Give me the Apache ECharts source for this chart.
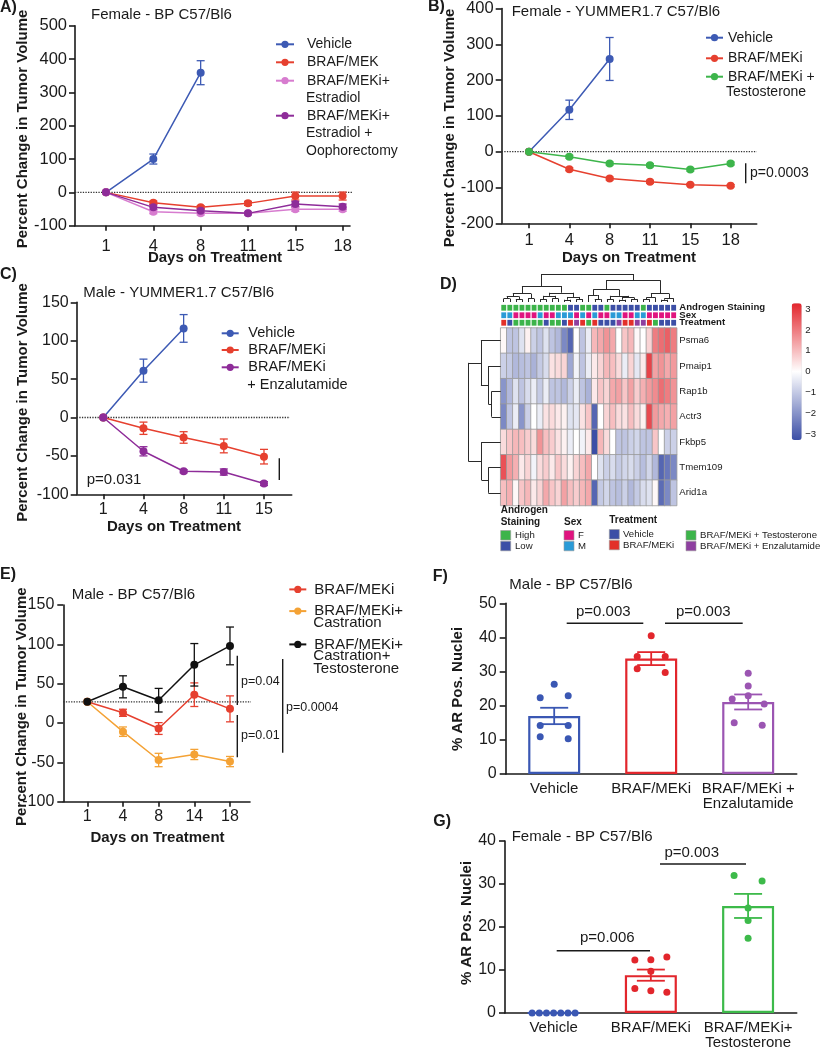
<!DOCTYPE html>
<html><head><meta charset="utf-8"><title>Figure</title>
<script src="https://cdn.jsdelivr.net/npm/echarts@6.0.0/dist/echarts.min.js"></script>
<style>
html,body{margin:0;padding:0;background:#fff;}
#wrap{position:relative;width:821px;height:1050px;overflow:hidden;background:#fff}
.c{position:absolute;left:0;top:0;width:821px;height:1050px}
</style></head>
<body><div id="wrap">
<div id="cA" class="c"></div><div id="cB" class="c"></div><div id="cC" class="c"></div>
<div id="cD" class="c"></div><div id="cE" class="c"></div><div id="cF" class="c"></div><div id="cG" class="c"></div>
</div>
<script>
/* ================= DATA ================= */
/* Panel A - Female BP C57/Bl6 */
const A_days = ['1', '4', '8', '11', '15', '18'];
const A_vehicle = [0, 100, 359];
const A_vehicleSem = [0, 15, 36];
const A_brafMek = [0, -31, -45, -33, -11, -11];
const A_brafMekSem = [0, 5, 5, 6, 12, 12];
const A_estradiol = [0, -58, -63, -63, -51, -51];
const A_estradiolSem = [0, 6, 5, 4, 6, 6];
const A_oophor = [0, -45, -55, -63, -35, -43];
const A_oophorSem = [0, 7, 6, 4, 8, 8];

/* Panel B - Female YUMMER1.7 C57/Bl6 */
const B_days = ['1', '4', '8', '11', '15', '18'];
const B_vehicle = [0, 117, 259];
const B_vehicleSem = [0, 27, 60];
const B_brafMek = [0, -49, -75, -84, -92, -95];
const B_brafMekSem = [0, 4, 4, 4, 3, 3];
const B_testo = [0, -14, -33, -38, -50, -33];
const B_testoSem = [0, 4, 4, 4, 4, 4];

/* Panel C - Male YUMMER1.7 C57/Bl6 */
const C_days = ['1', '4', '8', '11', '15'];
const C_vehicle = [0, 61, 116];
const C_vehicleSem = [0, 15, 18];
const C_brafMek = [0, -14, -26, -37, -51];
const C_brafMekSem = [0, 8, 7.5, 9, 9.5];
const C_enza = [0, -44, -70, -71, -86];
const C_enzaSem = [0, 6, 2, 4, 2.5];

/* Panel E - Male BP C57/Bl6 */
const E_days = ['1', '4', '8', '14', '18'];
const E_baseline = 27;
const E_brafMek = [27, 13, -7, 36, 18];
const E_brafMekSem = [0, 4.5, 7.5, 15, 16.5];
const E_castration = [27, -11, -47, -40, -49];
const E_castrationSem = [0, 6, 8.5, 6.5, 6.5];
const E_castTesto = [27, 46, 29, 74, 98];
const E_castTestoSem = [0, 14, 15, 27, 24];

/* Panel F - Male BP C57/Bl6, % AR positive nuclei */
const F_groups = ['Vehicle', 'BRAF/MEKi', 'BRAF/MEKi +\nEnzalutamide'];
const F_means = [17, 33.8, 21.1];
const F_sems = [2.4, 1.9, 2.2];
const F_vehiclePts = [22.3, 22.9, 26.3, 14.2, 14.2, 10.9, 10.3];
const F_brafPts = [40.5, 34.4, 34.4, 30.8, 29.7];
const F_enzaPts = [29.5, 25.8, 22, 22.9, 20.5, 15, 14.3];

/* Panel G - Female BP C57/Bl6, % AR positive nuclei */
const G_groups = ['Vehicle', 'BRAF/MEKi', 'BRAF/MEKi+\nTestosterone'];
const G_means = [0, 8.8, 24.9];
const G_sems = [0, 1.3, 2.8];
const G_vehiclePts = [0, 0, 0, 0, 0, 0, 0];
const G_brafPts = [12.3, 12.4, 13, 9.7, 5.7, 5.2, 4.8];
const G_testoPts = [32, 30.7, 24.4, 21.5, 17.4];

/* Panel D - heatmap (29 samples x 7 genes) */
const D_genes = ['Psma6', 'Pmaip1', 'Rap1b', 'Actr3', 'Fkbp5', 'Tmem109', 'Arid1a'];
const D_psma6 = [0.1, -1, -1, -0.5, 0.2, -0.8, -1, -0.5, -1, -1.2, -2, -2.6, 0, -1, -0.3, 1, 1.2, 1.5, 1.2, 0, 0.8, 1, 0.1, 0, 0.6, 1.8, 2, 2.2, 1.8];
const D_pmaip1 = [-0.8, -0.9, -1.2, -1.1, -1, -1.3, -0.9, -0.6, 0.4, 0.5, 0.6, -1.5, -0.2, -1, -0.3, 0.3, 0.6, 1, 0.9, 0.5, -0.3, 0.6, -0.4, 0.3, 2.6, 1.3, 1.5, 1.2, 1.4];
const D_rap1b = [-1.8, -1.2, -0.5, -1, -0.6, -0.3, -0.9, -0.3, -1, -1, -1.2, -0.8, -0.3, -1, -1.3, 0.3, 0.8, 0.6, 1.2, 1.3, 0.8, 1.3, 0.7, 1.1, 1.4, 1.6, 2, 1.8, 1.5];
const D_actr3 = [-2, -1, -0.3, -1.8, -0.8, 0, -0.3, 0.4, 0.5, 0.3, 0.2, -0.5, -0.4, 0.4, 0.8, -2.6, 0, 0.6, 0.9, 0.5, 0.4, 0.9, 0.5, 0.2, 2.5, 1.4, 1.2, 1.1, 1.3];
const D_fkbp5 = [0.5, 0.8, 1, 0.9, 0.7, 0.5, 1.5, 0.9, 0.7, 0.4, 0.2, -0.3, 0, -0.2, 0.3, -3, 1, 0.5, 0, -1, -1, -0.8, -0.7, -1, -1, 0.8, 0, -0.8, -0.8];
const D_tmem109 = [2.4, 1.4, 1.1, 0.3, 0.6, -0.2, 0.5, 0.7, 0.3, 0.8, 0.5, 0.2, 0.6, 0.9, 1.2, 0, -0.5, -0.8, -0.6, -0.9, -0.7, -0.6, -0.8, -1.1, -0.7, -1.2, -2.6, -2.3, -2];
const D_arid1a = [0.9, 1.1, 0.1, 0.8, 1, 0.3, 0.6, 1.2, 0.8, 0.6, 1.3, 0.9, 0.7, 1, 1.2, -2.6, -0.9, -0.7, -1, -1.1, -0.8, -1.2, -0.9, -0.6, -0.5, 0.1, -2.5, -2, -1];
const D_androgen = ['H','H','H','H','H','H','H','H','H','H','H','L','L','H','H','L','L','H','L','L','L','L','L','H','L','L','L','L','L'];
const D_sex = ['M','M','F','F','F','F','M','F','F','M','M','M','F','M','F','M','F','F','M','M','F','F','M','M','F','F','F','F','F'];
const D_treatment = ['B','V','T','T','T','T','T','V','T','T','V','B','E','B','T','B','V','V','V','E','B','B','E','E','B','T','V','V','V'];
const D_annotRows = ['Androgen Staining', 'Sex', 'Treatment'];
const D_colorTicks = [-3, -2, -1, 0, 1, 2, 3];
/* dendrograms: [left, right, mergeHeight], leaves are column/row indices */
const D_colTree = [
  [[[[0, 1, 0.12], [2, 3, 0.1], 0.2], [4, 5, 0.12], 0.3],
   [[[6, 7, 0.1], [8, 9, 0.12], 0.22], [[10, 11, 0.08], [12, 13, 0.1], 0.18], 0.33], 0.57],
  [[[14, [15, 16, 0.1], 0.25], [[17, 18, 0.1], [[19, 20, 0.08], [21, 22, 0.1], 0.16], 0.22], 0.45],
   [[[23, 24, 0.1], 25, 0.16], [[26, 27, 0.08], 28, 0.13], 0.3], 0.78], 1.0];
const D_rowTree = [[0, [1, [2, 3, 0.28], 0.38], 0.61], [4, [5, 6, 0.38], 0.59], 1.0];

/* ================= STYLE HELPERS ================= */
const FONT = '"Liberation Sans", Arial, Helvetica, sans-serif';
const INK = '#1a1a1a';
const BLUE = '#3d5ab4', RED = '#e6402f', PINK = '#d77ccf', PURPLE = '#8e2c99',
      GREEN = '#3db54b', ORANGE = '#f4a235', BLACK = '#111111';

function gText(text, x, y, o) {
  o = o || {};
  const al = o.align || 'left', va = o.va || 'middle';
  return { type: 'text', x: x, y: y, rotation: o.rot || 0, silent: true, z: 50,
    style: { text: text, x: 0, y: 0, fill: o.color || INK, fontSize: o.size || 15,
      fontWeight: o.bold ? 'bold' : 'normal', fontFamily: FONT,
      align: al, verticalAlign: va, textAlign: al, textVerticalAlign: va } };
}
function gLine(x1, y1, x2, y2, o) {
  o = o || {};
  return { type: 'line', silent: true, z: 50, shape: { x1: x1, y1: y1, x2: x2, y2: y2 },
    style: { stroke: o.color || INK, lineWidth: o.w || 1.4 } };
}
function gRect(x, y, w, h, fill) {
  return { type: 'rect', silent: true, z: 50, shape: { x: x, y: y, width: w, height: h },
    style: { fill: fill, stroke: '#9a9a9a', lineWidth: 0.6 } };
}
const letter = (t, x, y) => gText(t, x, y, { bold: true, size: 16 });
const title = (t, x, y) => gText(t, x, y, { size: 15 });
const yName = (t, x, y) => gText(t, x, y, { bold: true, size: 15, rot: Math.PI / 2, align: 'center' });
const xName = (t, x, y) => gText(t, x, y, { bold: true, size: 15, align: 'center' });

function errRenderer(colorFor, capW, lw) {
  return function (params, api) {
    const x = api.value(0), lo = api.value(1), hi = api.value(2);
    if (!(hi > lo)) return null;
    const a = api.coord([x, hi]), b = api.coord([x, lo]);
    const h = capW / 2;
    const st = { stroke: colorFor(params.dataIndex), lineWidth: lw };
    return { type: 'group', children: [
      { type: 'line', shape: { x1: a[0], y1: a[1], x2: b[0], y2: b[1] }, style: st },
      { type: 'line', shape: { x1: a[0] - h, y1: a[1], x2: a[0] + h, y2: a[1] }, style: st },
      { type: 'line', shape: { x1: b[0] - h, y1: b[1], x2: b[0] + h, y2: b[1] }, style: st }
    ] };
  };
}

/* one legend component per entry (first line next to the icon), continuation lines as text */
function legendParts(cfg) {
  const legends = [], extra = [];
  const padLeft = Math.max(0, cfg.textLeft - cfg.iconLeft - cfg.iconW - 5);
  cfg.items.forEach(it => {
    const lines = it.text.split('\n'), L = cfg.lineHeight;
    legends.push({ show: true, orient: 'vertical', left: cfg.iconLeft, top: it.y - L / 2,
      padding: 0, itemWidth: cfg.iconW, itemHeight: 9, selectedMode: false,
      data: [{ name: it.name }], formatter: () => lines[0],
      textStyle: { fontSize: cfg.fontSize, lineHeight: L, height: L, color: INK, fontFamily: FONT,
        padding: [0, 0, 0, padLeft] } });
    lines.slice(1).forEach((ln, j) => extra.push(gText(ln, cfg.textLeft, it.y + (j + 1) * L, { size: cfg.fontSize })));
  });
  return { legends: legends, extra: extra };
}

function axisStyle() { return { color: INK, width: 1.6 }; }

/* ================= LINE PANELS ================= */
function makeLinePanel(cfg) {
  const chart = echarts.init(document.getElementById(cfg.id), null, { width: 821, height: 1050 });
  const g = cfg.grid;
  const xMin = (g.left - cfg.x0) / cfg.step;
  const xMax = (g.left + g.width - cfg.x0) / cfg.step;
  const idx = cfg.days.map((d, i) => i);
  const refEnd = (cfg.refEndPx - cfg.x0) / cfg.step;
  const series = [{
    type: 'line', name: '__ref', data: [[xMin, cfg.refY], [refEnd, cfg.refY]], symbol: 'none',
    silent: true, clip: false, z: 1, lineStyle: { color: '#333', width: 1.3, type: 'dotted' }
  }];
  cfg.series.forEach(s => {
    series.push({ type: 'custom', name: s.name + ' SEM', silent: true, clip: false, z: 2,
      renderItem: errRenderer(() => s.color, 8, 1.3),
      encode: { x: 0, y: [1, 2] },
      data: s.values.map((v, i) => [i, v - s.errs[i], v + s.errs[i]]) });
    series.push({ type: 'line', name: s.name, data: s.values.map((v, i) => [i, v]),
      symbol: 'circle', symbolSize: 8, z: 3, clip: false,
      itemStyle: { color: s.color }, lineStyle: { color: s.color, width: 1.5 } });
  });
  const lp = legendParts(cfg.legend);
  chart.setOption({
    animation: false,
    textStyle: { fontFamily: FONT },
    grid: { left: g.left, top: g.top, width: g.width, height: g.height },
    xAxis: { type: 'value', min: xMin, max: xMax,
      axisLine: { show: true, onZero: false, lineStyle: axisStyle() },
      axisTick: { show: true, customValues: idx, length: 5, lineStyle: axisStyle() },
      axisLabel: { customValues: idx, formatter: v => cfg.days[Math.round(v)], fontSize: cfg.tickFont,
        color: INK, margin: cfg.xLabelMargin, fontFamily: FONT },
      splitLine: { show: false } },
    yAxis: { type: 'value', min: cfg.yMin, max: cfg.yMax, interval: cfg.yInterval,
      axisLine: { show: true, onZero: false, lineStyle: axisStyle() },
      axisTick: { show: true, length: 6, lineStyle: axisStyle() },
      axisLabel: { fontSize: cfg.tickFont, color: INK, margin: cfg.yLabelMargin, fontFamily: FONT },
      splitLine: { show: false } },
    legend: lp.legends,
    graphic: cfg.graphics.concat(lp.extra),
    series: series
  });
}

makeLinePanel({
  id: 'cA', grid: { left: 75, top: 25.7, width: 275, height: 200 }, x0: 106, step: 47.33, refEndPx: 372, refY: 0,
  days: A_days, yMin: -100, yMax: 500, yInterval: 100, tickFont: 16.5, xLabelMargin: 12.5, yLabelMargin: 8,
  series: [
    { name: 'Vehicle', color: BLUE, values: A_vehicle, errs: A_vehicleSem },
    { name: 'BRAF/MEK', color: RED, values: A_brafMek, errs: A_brafMekSem },
    { name: 'BRAF/MEKi+ Estradiol', color: PINK, values: A_estradiol, errs: A_estradiolSem },
    { name: 'BRAF/MEKi+ Estradiol + Oophorectomy', color: PURPLE, values: A_oophor, errs: A_oophorSem }],
  legend: { iconLeft: 275, iconW: 18, textLeft: 306, fontSize: 14, lineHeight: 17.5, items: [
    { name: 'Vehicle', text: 'Vehicle', y: 44.3 },
    { name: 'BRAF/MEK', text: 'BRAF/MEK', y: 62.3 },
    { name: 'BRAF/MEKi+ Estradiol', text: 'BRAF/MEKi+\nEstradiol', y: 80.7 },
    { name: 'BRAF/MEKi+ Estradiol + Oophorectomy', text: 'BRAF/MEKi+\nEstradiol +\nOophorectomy', y: 115.7 }] },
  graphics: [letter('A)', 0, 8), title('Female - BP C57/Bl6', 91, 15),
    yName('Percent Change in Tumor Volume', 22.5, 129), xName('Days on Treatment', 215, 258)]
});

makeLinePanel({
  id: 'cB', grid: { left: 501.7, top: 5, width: 255, height: 218.3 }, x0: 529, step: 40.33, refEndPx: 756.7, refY: 0,
  days: B_days, yMin: -200, yMax: 400, yInterval: 100, tickFont: 16.5, xLabelMargin: 8.5, yLabelMargin: 8,
  series: [
    { name: 'Vehicle', color: BLUE, values: B_vehicle, errs: B_vehicleSem },
    { name: 'BRAF/MEKi', color: RED, values: B_brafMek, errs: B_brafMekSem },
    { name: 'BRAF/MEKi + Testosterone', color: GREEN, values: B_testo, errs: B_testoSem }],
  legend: { iconLeft: 705, iconW: 17, textLeft: 726, fontSize: 14, lineHeight: 15.5, items: [
    { name: 'Vehicle', text: 'Vehicle', y: 37.7 },
    { name: 'BRAF/MEKi', text: 'BRAF/MEKi', y: 58.3 },
    { name: 'BRAF/MEKi + Testosterone', text: 'BRAF/MEKi +\nTestosterone', y: 76.7 }] },
  graphics: [letter('B)', 428, 7), title('Female - YUMMER1.7 C57/Bl6', 511.7, 12.3),
    yName('Percent Change in Tumor Volume', 450, 128), xName('Days on Treatment', 629, 258),
    gLine(745.7, 163.3, 745.7, 183.3), gText('p=0.0003', 750, 173.3, { size: 14 })]
});

makeLinePanel({
  id: 'cC', grid: { left: 76.7, top: 302.3, width: 215, height: 192 }, x0: 103.3, step: 40.17, refEndPx: 290, refY: 0,
  days: C_days, yMin: -100, yMax: 150, yInterval: 50, tickFont: 16, xLabelMargin: 7, yLabelMargin: 8,
  series: [
    { name: 'Vehicle', color: BLUE, values: C_vehicle, errs: C_vehicleSem },
    { name: 'BRAF/MEKi', color: RED, values: C_brafMek, errs: C_brafMekSem },
    { name: 'BRAF/MEKi + Enzalutamide', color: PURPLE, values: C_enza, errs: C_enzaSem }],
  legend: { iconLeft: 220.7, iconW: 17, textLeft: 247.3, fontSize: 14.5, lineHeight: 17.5, items: [
    { name: 'Vehicle', text: 'Vehicle', y: 333.3 },
    { name: 'BRAF/MEKi', text: 'BRAF/MEKi', y: 350 },
    { name: 'BRAF/MEKi + Enzalutamide', text: 'BRAF/MEKi\n+ Enzalutamide', y: 367.3 }] },
  graphics: [letter('C)', 0, 275), title('Male - YUMMER1.7 C57/Bl6', 83.3, 293.3),
    yName('Percent Change in Tumor Volume', 23, 402.5), xName('Days on Treatment', 174, 526.7),
    gLine(279.3, 458.3, 279.3, 480), gText('p=0.031', 86.7, 480, { size: 15 })]
});

makeLinePanel({
  id: 'cE', grid: { left: 63.3, top: 605, width: 186.7, height: 196.7 }, x0: 87.3, step: 35.67, refEndPx: 253, refY: E_baseline,
  days: E_days, yMin: -100, yMax: 150, yInterval: 50, tickFont: 16, xLabelMargin: 7, yLabelMargin: 9,
  series: [
    { name: 'BRAF/MEKi', color: RED, values: E_brafMek, errs: E_brafMekSem },
    { name: 'BRAF/MEKi+ Castration', color: ORANGE, values: E_castration, errs: E_castrationSem },
    { name: 'BRAF/MEKi+ Castration+ Testosterone', color: BLACK, values: E_castTesto, errs: E_castTestoSem }],
  legend: { iconLeft: 288.3, iconW: 17, textLeft: 313.3, fontSize: 15, lineHeight: 12.8, items: [
    { name: 'BRAF/MEKi', text: 'BRAF/MEKi', y: 588.3 },
    { name: 'BRAF/MEKi+ Castration', text: 'BRAF/MEKi+\nCastration', y: 610 },
    { name: 'BRAF/MEKi+ Castration+ Testosterone', text: 'BRAF/MEKi+\nCastration+\nTestosterone', y: 643.3 }] },
  graphics: [letter('E)', 0, 575), title('Male - BP C57/Bl6', 71.7, 595),
    yName('Percent Change in Tumor Volume', 21.7, 706.7), xName('Days on Treatment', 157.5, 838.3),
    gLine(237.3, 655.7, 237.3, 705), gText('p=0.04', 241, 681.7, { size: 12.5 }),
    gLine(237.3, 715, 237.3, 757.3), gText('p=0.01', 241, 735.7, { size: 12.5 }),
    gLine(282.7, 659, 282.7, 752.7), gText('p=0.0004', 286, 708, { size: 12.5 })]
});

/* ================= BAR PANELS ================= */
function swarmOffsets(pix, thr) {
  const spacingFor = n => n <= 1 ? 0 : n === 2 ? 28 : n === 3 ? 16 : 43 / (n - 1);
  const order = pix.map((_, i) => i).sort((a, b) => pix[a] - pix[b]);
  const rows = []; let cur = [];
  order.forEach((i, j) => {
    if (j > 0 && Math.abs(pix[i] - pix[order[j - 1]]) > thr) { rows.push(cur); cur = []; }
    cur.push(i);
  });
  if (cur.length) rows.push(cur);
  const off = new Array(pix.length).fill(0);
  rows.forEach(r => {
    r.sort((a, b) => a - b);
    const n = r.length, s = spacingFor(n);
    r.forEach((i, j) => { off[i] = (j - (n - 1) / 2) * s; });
  });
  return off;
}

function makeBarPanel(cfg) {
  const chart = echarts.init(document.getElementById(cfg.id), null, { width: 821, height: 1050 });
  const g = cfg.grid;
  const ptsData = [];
  cfg.points.forEach((arr, c) => arr.forEach((v, k) => ptsData.push([c, v, k])));
  chart.setOption({
    animation: false,
    textStyle: { fontFamily: FONT },
    grid: { left: g.left, top: g.top, width: g.width, height: g.height },
    xAxis: { type: 'category', data: cfg.groups, boundaryGap: true,
      axisLine: { show: true, onZero: false, lineStyle: axisStyle() },
      axisTick: { show: false },
      axisLabel: { fontSize: 15, lineHeight: 15, color: INK, margin: 7, interval: 0, fontFamily: FONT } },
    yAxis: { type: 'value', min: 0, max: cfg.yMax, interval: 10,
      axisLine: { show: true, onZero: false, lineStyle: axisStyle() },
      axisTick: { show: true, length: 6, lineStyle: axisStyle() },
      axisLabel: { fontSize: 16, color: INK, margin: 9, fontFamily: FONT },
      splitLine: { show: false } },
    graphic: cfg.graphics,
    series: [
      { type: 'bar', name: 'Mean', barWidth: 52, silent: true, z: 2,
        data: cfg.means.map((m, i) => ({ value: m,
          itemStyle: { color: '#ffffff', borderColor: cfg.colors[i], borderWidth: 2.2 } })) },
      { type: 'custom', name: 'SEM', silent: true, z: 3, clip: false,
        renderItem: errRenderer(i => cfg.colors[i], 28, 1.8), encode: { x: 0, y: [1, 2] },
        data: cfg.means.map((m, i) => [i, m - cfg.sems[i], m + cfg.sems[i]]) },
      { type: 'custom', name: 'Samples', silent: true, z: 4, clip: false,
        encode: { x: 0, y: 1 },
        renderItem: function (params, api) {
          const c = api.value(0), v = api.value(1), k = api.value(2);
          const arr = cfg.points[c];
          const pix = arr.map(val => api.coord([c, val])[1]);
          const off = swarmOffsets(pix, 8);
          const p = api.coord([c, v]);
          return { type: 'circle', shape: { cx: p[0] + off[k], cy: p[1], r: 3.5 },
            style: { fill: cfg.colors[c] } };
        },
        data: ptsData }
    ]
  });
}

const F_colors = ['#3a57b3', '#e2262c', '#9b55b2'];
makeBarPanel({
  id: 'cF', grid: { left: 505.7, top: 603.3, width: 291, height: 170.7 }, yMax: 50,
  groups: F_groups, means: F_means, sems: F_sems, colors: F_colors,
  points: [F_vehiclePts, F_brafPts, F_enzaPts],
  graphics: [letter('F)', 432.7, 576.7), title('Male - BP C57/Bl6', 509.3, 585),
    yName('% AR Pos. Nuclei', 458.3, 689),
    gLine(566.7, 623.3, 643.3, 623.3), gText('p=0.003', 603.3, 612.3, { align: 'center' }),
    gLine(665, 623.3, 742.7, 623.3), gText('p=0.003', 703.3, 612.3, { align: 'center' })]
});

const G_colors = ['#3a57b3', '#e2262c', '#3dba4a'];
makeBarPanel({
  id: 'cG', grid: { left: 505, top: 841, width: 291.7, height: 174 }, yMax: 40,
  groups: G_groups, means: G_means, sems: G_sems, colors: G_colors,
  points: [G_vehiclePts, G_brafPts, G_testoPts],
  graphics: [letter('G)', 433.3, 821.7), title('Female - BP C57/Bl6', 511.7, 837.3),
    yName('% AR Pos. Nuclei', 466.7, 923),
    gLine(660, 864, 746, 864), gText('p=0.003', 691.7, 853.3, { align: 'center' }),
    gLine(556.7, 950.7, 650, 950.7), gText('p=0.006', 607.3, 938.3, { align: 'center' })]
});

/* ================= HEATMAP PANEL ================= */
(function () {
  const chart = echarts.init(document.getElementById('cD'), null, { width: 821, height: 1050 });
  const rowsVals = [D_psma6, D_pmaip1, D_rap1b, D_actr3, D_fkbp5, D_tmem109, D_arid1a];
  const nCol = D_psma6.length;
  const cols = Array.from({ length: nCol }, (_, i) => String(i + 1));
  const heat = [];
  rowsVals.forEach((row, r) => row.forEach((v, c) => heat.push([c, r, v])));
  const annotColor = { H: '#3cb44a', L: '#3c4fa6', F: '#e0147f', M: '#2a9bd7',
    V: '#3c4fa6', B: '#e2302a', T: '#3cb44a', E: '#8e3fa0' };
  const annot = [], annotFill = [];
  [D_androgen, D_sex, D_treatment].forEach((row, r) => row.forEach((k, c) => {
    annot.push([c, r]); annotFill.push(annotColor[k]);
  }));
  function segments(tree) {
    const segs = [];
    (function walk(node) {
      if (typeof node === 'number') return [node, 0];
      const a = walk(node[0]), b = walk(node[1]), h = node[2];
      segs.push([[a[0], a[1]], [a[0], h]], [[b[0], b[1]], [b[0], h]], [[a[0], h], [b[0], h]]);
      return [(a[0] + b[0]) / 2, h];
    })(tree);
    return segs;
  }
  const colSegs = segments(D_colTree).map(s => ({ coords: s }));
  const rowSegs = segments(D_rowTree).map(s => ({ coords: [[s[0][1], s[0][0]], [s[1][1], s[1][0]]] }));
  const hid = { show: false };
  const minus = v => (v < 0 ? '\u2212' + Math.abs(v) : String(v));
  const lg = [];
  lg.push(gText('Androgen', 500.7, 510, { bold: true, size: 10 }), gText('Staining', 500.7, 522.3, { bold: true, size: 10 }));
  lg.push(gRect(500.7, 530.5, 10, 9.5, annotColor.H), gRect(500.7, 541.3, 10, 9.5, annotColor.L));
  lg.push(gText('High', 515, 535.3, { size: 9.6 }), gText('Low', 515, 546, { size: 9.6 }));
  lg.push(gText('Sex', 564, 522.3, { bold: true, size: 10 }));
  lg.push(gRect(564, 530.5, 10, 9.5, annotColor.F), gRect(564, 541.3, 10, 9.5, annotColor.M));
  lg.push(gText('F', 578, 535.3, { size: 9.6 }), gText('M', 578, 546, { size: 9.6 }));
  lg.push(gText('Treatment', 609.3, 520, { bold: true, size: 10 }));
  lg.push(gRect(609.3, 529.5, 10, 9.5, annotColor.V), gRect(609.3, 540.3, 10, 9.5, annotColor.B));
  lg.push(gText('Vehicle', 623, 534.3, { size: 9.6 }), gText('BRAF/MEKi', 623, 545.3, { size: 9.6 }));
  lg.push(gRect(686, 530.5, 10, 9.5, annotColor.T), gRect(686, 541.3, 10, 9.5, annotColor.E));
  lg.push(gText('BRAF/MEKi + Testosterone', 700, 535.3, { size: 9.6 }), gText('BRAF/MEKi + Enzalutamide', 700, 546, { size: 9.6 }));
  lg.push(letter('D)', 440, 285));

  chart.setOption({
    animation: false,
    textStyle: { fontFamily: FONT },
    grid: [
      { left: 500.7, top: 328, width: 176, height: 177.5 },
      { left: 500.7, top: 304, width: 176, height: 22.5 },
      { left: 500.7, top: 274, width: 176, height: 28 },
      { left: 468.3, top: 328, width: 32.4, height: 177.5 },
      { left: 791.7, top: 303.3, width: 10, height: 136.7 }
    ],
    xAxis: [
      { type: 'category', gridIndex: 0, data: cols, show: false },
      { type: 'category', gridIndex: 1, data: cols, show: false },
      { type: 'value', gridIndex: 2, min: -0.5, max: nCol - 0.5, show: false },
      { type: 'value', gridIndex: 3, min: 0, max: 1, inverse: true, show: false },
      { type: 'value', gridIndex: 4, min: 0, max: 1, show: false }
    ],
    yAxis: [
      { type: 'category', gridIndex: 0, data: D_genes, inverse: true, position: 'right',
        axisLine: hid, axisTick: hid, splitLine: hid,
        axisLabel: { interval: 0, fontSize: 9.6, color: INK, margin: 2.6, fontFamily: FONT } },
      { type: 'category', gridIndex: 1, data: D_annotRows, inverse: true, position: 'right',
        axisLine: hid, axisTick: hid, splitLine: hid,
        axisLabel: { interval: 0, hideOverlap: false, fontSize: 9.6, lineHeight: 8, fontWeight: 'bold', color: INK, margin: 2.6, fontFamily: FONT } },
      { type: 'value', gridIndex: 2, min: 0, max: 1, show: false },
      { type: 'value', gridIndex: 3, min: -0.5, max: D_genes.length - 0.5, inverse: true, show: false },
      { type: 'value', gridIndex: 4, min: -3.27, max: 3.27, position: 'right',
        axisLine: hid, axisTick: hid, splitLine: hid,
        axisLabel: { customValues: D_colorTicks, formatter: minus, fontSize: 9.6, color: INK, margin: 3.5, fontFamily: FONT } }
    ],
    visualMap: { type: 'continuous', seriesIndex: 0, min: -3, max: 3, calculable: false,
      left: 791.7, top: 303.3, itemWidth: 10, itemHeight: 136.7, padding: 0, text: null,
      inRange: { color: ['#3b4ea6', '#ffffff', '#e3262d'] } },
    graphic: lg,
    series: [
      { type: 'heatmap', xAxisIndex: 0, yAxisIndex: 0, data: heat, silent: true,
        itemStyle: { borderColor: '#9a9a9a', borderWidth: 0.8 }, emphasis: { disabled: true } },
      { type: 'custom', xAxisIndex: 1, yAxisIndex: 1, data: annot, silent: true,
        renderItem: function (params, api) {
          const p = api.coord([api.value(0), api.value(1)]);
          const sz = api.size([1, 1]);
          return { type: 'rect', shape: { x: p[0] - sz[0] / 2 + 0.6, y: p[1] - 2.9, width: sz[0] - 1.2, height: 5.8 },
            style: { fill: annotFill[params.dataIndex] } };
        } },
      { type: 'lines', coordinateSystem: 'cartesian2d', xAxisIndex: 2, yAxisIndex: 2, data: colSegs, silent: true,
        lineStyle: { color: '#2a2a2a', width: 1, opacity: 1 } },
      { type: 'lines', coordinateSystem: 'cartesian2d', xAxisIndex: 3, yAxisIndex: 3, data: rowSegs, silent: true,
        lineStyle: { color: '#2a2a2a', width: 1, opacity: 1 } },
      { type: 'scatter', xAxisIndex: 4, yAxisIndex: 4, data: [], silent: true }
    ]
  });
})();
</script>
</body></html>
